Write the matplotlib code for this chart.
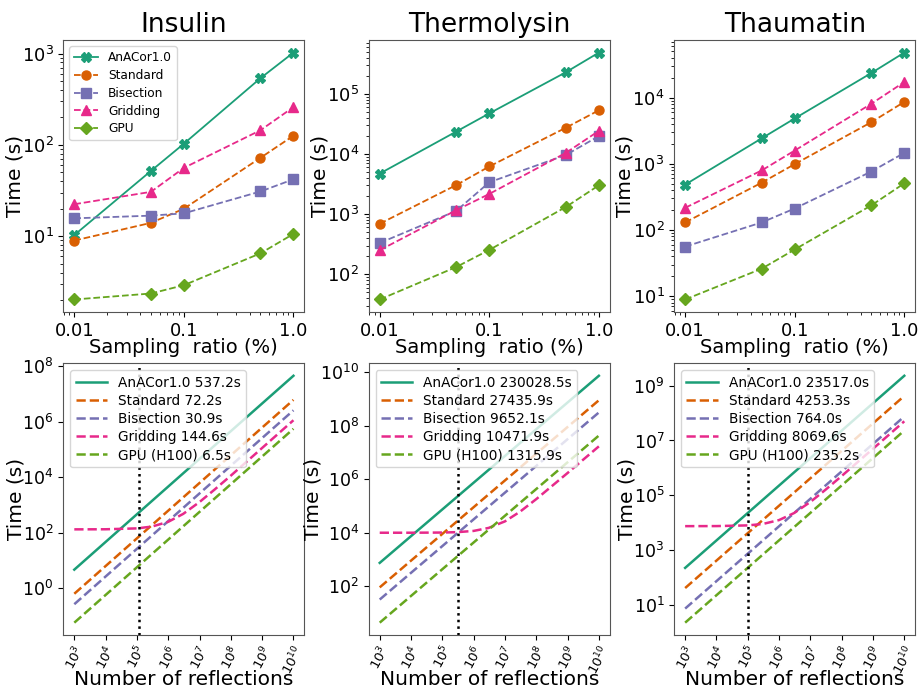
import numpy as np
import matplotlib
matplotlib.use("Agg")
import matplotlib.pyplot as plt

# sampling ratio (%) used in the top row
ratio = [0.01, 0.05, 0.1, 0.5, 1.0]

methods = ["AnACor1.0", "Standard", "Bisection", "Gridding", "GPU"]
colors = ["#1b9e77", "#d95f02", "#7570b3", "#e7298a", "#66a61e"]
markers = ["X", "o", "s", "^", "D"]
styles = ["-", "--", "--", "--", "--"]

proteins = ["Insulin", "Thermolysin", "Thaumatin"]

# measured times (s), top row
insulin_t = [
    [10.3, 51.8, 103, 537.2, 1024],
    [8.97, 14.0, 20.0, 72.2, 126],
    [15.7, 16.8, 17.8, 30.9, 42],
    [22.4, 30.6, 56, 144.6, 259],
    [2.03, 2.36, 2.91, 6.5, 10.6],
]
thermolysin_t = [
    [4730, 23700, 47500, 230028.5, 488000],
    [692, 3050, 6220, 27435.9, 53500],
    [331, 1135, 3390, 9652.1, 19900],
    [251, 1165, 2170, 10471.9, 24300],
    [38, 132, 254, 1315.9, 3020],
]
thaumatin_t = [
    [484, 2427, 4842, 23517.0, 47900],
    [130, 519, 989, 4253.3, 8610],
    [56, 130, 211, 764.0, 1462],
    [216, 794, 1585, 8069.6, 17200],
    [8.9, 26, 50.7, 235.2, 507],
]
top_data = [insulin_t, thermolysin_t, thaumatin_t]

# bottom row: projected time vs number of reflections
legend_names = ["AnACor1.0", "Standard", "Bisection", "Gridding", "GPU (H100)"]
n_ends = [1e3, 1e10]
n_grid = [1e3, 1e4, 1e5, 3e5, 1e6, 3e6, 1e7, 3e7, 1e8, 1e9, 1e10]

# AnACor, Standard, Bisection, GPU (straight lines, end points)
insulin_proj = [4.6, 4.6e7], [0.62, 6.2e6], [0.26, 2.6e6], [0.056, 5.6e5]
insulin_grid = [131, 132, 142, 165, 245, 473, 1271, 3550, 1.14e4, 1.14e5, 1.14e6]
thermolysin_proj = [742, 7.42e9], [90, 9.0e8], [31.5, 3.15e8], [4.3, 4.3e7]
thermolysin_grid = [9952, 9967, 1.012e4, 1.047e4, 1.165e4, 1.505e4, 2.65e4, 6.05e4, 1.8e5, 1.71e6, 1.7e7]
thaumatin_proj = [228, 2.28e9], [42, 4.2e8], [7.5, 7.5e7], [2.3, 2.3e7]
thaumatin_grid = [7560, 7605, 8055, 9055, 1.26e4, 2.26e4, 5.76e4, 1.58e5, 5.08e5, 5.0e6, 5.0e7]

proj_data = [insulin_proj, thermolysin_proj, thaumatin_proj]
grid_data = [insulin_grid, thermolysin_grid, thaumatin_grid]
legend_vals = [
    ["537.2s", "72.2s", "30.9s", "144.6s", "6.5s"],
    ["230028.5s", "27435.9s", "9652.1s", "10471.9s", "1315.9s"],
    ["23517.0s", "4253.3s", "764.0s", "8069.6s", "235.2s"],
]
n_reflections = [1.17e5, 3.08e5, 1.03e5]

fig, axes = plt.subplots(2, 3, figsize=(9.18, 6.94), dpi=100)
fig.subplots_adjust(left=0.069, right=0.997, top=0.942, bottom=0.085,
                    wspace=0.267, hspace=0.19)

for i, name in enumerate(proteins):
    # top row: sampling ratio
    ax = axes[0, i]
    for j in range(5):
        ax.plot(ratio, top_data[i][j], color=colors[j], marker=markers[j],
                linestyle=styles[j], lw=1.3, ms=6.5, label=methods[j])
    ax.set_xscale("log")
    ax.set_yscale("log")
    ax.set_xticks([0.01, 0.1, 1.0])
    ax.set_xticklabels(["0.01", "0.1", "1.0"])
    ax.tick_params(labelsize=13)
    ax.set_title(name, fontsize=19)
    ax.set_xlabel("Sampling  ratio (%)", fontsize=14, labelpad=-1)
    ax.set_ylabel("Time (s)", fontsize=14.5, labelpad=-2)
    for s in ax.spines.values():
        s.set_color("#555555")
    if i == 0:
        ax.legend(loc="upper left", fontsize=8.7, labelspacing=0.4)

    # bottom row: number of reflections
    ax = axes[1, i]
    for j in range(5):
        lab = legend_names[j] + " " + legend_vals[i][j]
        if j == 3:
            ax.plot(n_grid, grid_data[i], color=colors[j], linestyle="--", lw=1.8, label=lab)
        else:
            k = j if j < 3 else 3
            ax.plot(n_ends, proj_data[i][k], color=colors[j], linestyle=styles[j], lw=1.8, label=lab)
    ax.set_xscale("log")
    ax.set_yscale("log")
    ax.axvline(n_reflections[i], color="black", linestyle=":", lw=1.8)
    ax.set_xticks([10.0**k for k in range(3, 11)])
    ax.tick_params(axis="x", labelsize=9.5, labelrotation=62, pad=2)
    ax.tick_params(axis="y", labelsize=12.5)
    ax.set_xlabel("Number of reflections", fontsize=14.5, labelpad=-5)
    ax.set_ylabel("Time (s)", fontsize=14.5, labelpad=-2)
    for s in ax.spines.values():
        s.set_color("#555555")
    ax.legend(loc="upper left", fontsize=9.8, labelspacing=0.3, handlelength=2.3)

fig.savefig("out.png", dpi=100)
